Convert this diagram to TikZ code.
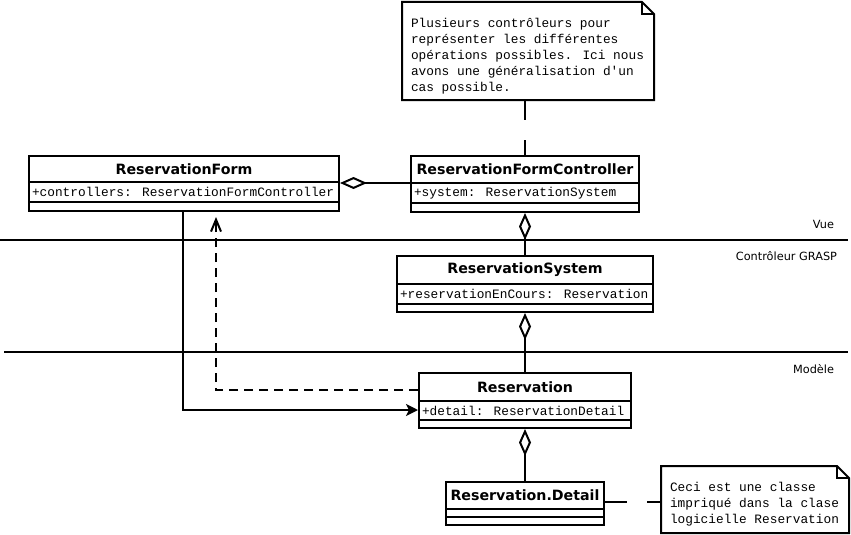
\documentclass[tikz,border=0pt]{standalone}
\usepackage{fontspec}
\setmainfont{DejaVu Sans}
\newfontfamily\monof{Liberation Mono}
\usetikzlibrary{arrows.meta,calc}

\newcommand\umlclass[9]{%
  \node[clsbox, minimum width=#4pt, minimum height=#5pt] (#1) at (#2,#3) {};
  \draw ($(#1.north west)+(0,#6)$) -- ($(#1.north east)+(0,#6)$);
  \draw ($(#1.north west)+(0,#7)$) -- ($(#1.north east)+(0,#7)$);
  \node[ttl] (#1-t) at ($(#1.north)+(0,{#6/2+0.5})$) {#8};
  \node[attr] (#1-a) at ($(#1.north west)+(3,{(#6+#7)/2})$) {#9};
}
\newcommand\umlnote[6]{%
  \node[notebox, minimum width=#4pt, minimum height=#5pt] (#1) at (#2,#3) {};
  \draw[fill=white] (#1.north west) -- ($(#1.north east)+(-12,0)$) -- ($(#1.north east)+(0,12)$) -- (#1.south east) -- (#1.south west) -- cycle;
  \draw ($(#1.north east)+(-12,0)$) -- ++(0,12) -- ++(12,0);
  \node[notetxt] (#1-t) at ($(#1.north west)+(8,15)$) {#6};
}

\begin{document}
\begin{tikzpicture}[x=1pt,y=-1pt,line width=2pt,
  clsbox/.style={draw, fill=white, anchor=north west, inner sep=0pt, line width=2pt},
  notebox/.style={anchor=north west, inner sep=0pt},
  ttl/.style={font=\fontsize{14.2}{16}\selectfont\bfseries, inner sep=0pt},
  attr/.style={font=\monof\fontsize{12.8}{15}\selectfont, inner sep=0pt, anchor=west},
  notetxt/.style={font=\monof\fontsize{12.8}{16}\selectfont, inner sep=0pt, anchor=north west, align=left},
  lane/.style={font=\fontsize{11.3}{13}\selectfont, inner sep=0pt, anchor=east},
  agg/.style={{Diamond[open,length=27pt,width=12pt,line width=2pt]}-},
  dsh/.style={dash pattern=on 9pt off 6pt}
]
\useasboundingbox (0,0) rectangle (851,535);

% swimlane separators
\draw (0,240) -- (848,240);
\draw (4,352) -- (848,352);
\node[lane] (lvue) at (835,224) {Vue};
\node[lane] (lctl) at (838,256) {Contrôleur GRASP};
\node[lane] (lmod) at (835,369) {Modèle};

% classes
\umlclass{rf}{28}{155}{310}{55}{27}{47}{ReservationForm}{+controllers: ReservationFormController}
\umlclass{rfc}{410}{155}{228}{56}{28}{48}{ReservationFormController}{+system: ReservationSystem}
\umlclass{rs}{396}{255}{256}{56}{29}{49}{ReservationSystem}{+reservationEnCours: Reservation}
\umlclass{res}{418}{372}{212}{55}{29}{48}{Reservation}{+detail: ReservationDetail}
\umlclass{det}{445}{481}{158}{43}{28}{36}{Reservation.Detail}{}

% notes
\umlnote{n1}{402}{2}{250}{96}{Plusieurs contrôleurs pour\\représenter les différentes\\opérations possibles. Ici nous\\avons une généralisation d'un\\cas possible.}
\umlnote{n2}{661}{466}{186}{65}{Ceci est une classe\\impriqué dans la clase\\logicielle Reservation}

% aggregations
\coordinate (rfagg) at ($(rf.north east)+(0,28)$);
\draw[agg] (rfagg) -- (rfagg -| rfc.west);
\draw[agg] (rfc.south) -- (rfc.south |- rs.north);
\draw[agg] (rs.south) -- (rs.south |- res.north);
\draw[agg] (res.south) -- (res.south |- det.north);

% note anchors
\draw[dash pattern=on 20pt off 20pt] (n1.south -| rfc.south) -- (rfc.north);
\coordinate (dete) at ($(det.north east)+(0,21)$);
\draw[dash pattern=on 22pt off 20pt] (dete) -- (dete -| n2.west);

% navigation / dependency
\coordinate (a1) at ($(rf.south west)+(155,0)$);
\coordinate (a2) at ($(res.north west)+(0,38)$);
\draw[-{Stealth[length=12pt,width=12pt,inset=3pt]}] (a1) |- (a2);
\coordinate (d0) at ($(res.north west)+(0,18)$);
\coordinate (d1) at ($(rf.south west)+(188,0)$);
\draw[dsh,-{Straight Barb[length=12pt,width=10pt]},shorten >=5pt] (d0) -| (d1);
\end{tikzpicture}
\end{document}
